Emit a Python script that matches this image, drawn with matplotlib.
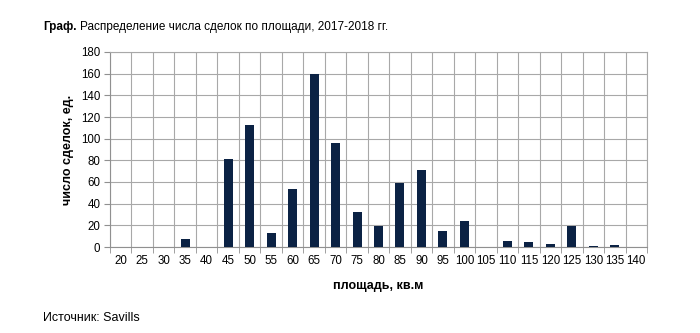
import matplotlib
matplotlib.use("Agg")
import matplotlib.pyplot as plt
from matplotlib.transforms import offset_copy
import numpy as np

categories = ["20", "25", "30", "35", "40", "45", "50", "55", "60", "65", "70", "75", "80",
              "85", "90", "95", "100", "105", "110", "115", "120", "125", "130", "135", "140"]
values = [0, 0, 0, 7, 0, 81, 113, 13, 54, 160, 96, 32, 19,
          59, 71, 15, 24, 0, 6, 5, 3, 19, 1, 2, 0]
y_ticks = [0, 20, 40, 60, 80, 100, 120, 140, 160, 180]

plt.rcParams['font.family'] = ['Liberation Sans', 'DejaVu Sans']

fig = plt.figure(figsize=(7.0, 3.33), dpi=100)
W, H = 700, 333
left, right, top, bottom = 110, 647, 52, 247
ax = fig.add_axes([left / W, 1 - bottom / H, (right - left) / W, (bottom - top) / H])

x = np.arange(len(categories))
ax.bar(x, values, width=0.42, color="#0b2244", zorder=3)
ax.set_xlim(-0.5, len(categories) - 0.5)
ax.set_ylim(0, 180)
ax.set_yticks(y_ticks)
ax.set_xticks(x)
ax.set_xticklabels(categories)
ax.set_xticks(np.arange(len(categories) + 1) - 0.5, minor=True)
ax.grid(False)
ax.grid(axis="y", which="major", color="#a8a8a8", linewidth=0.8, zorder=0)
ax.grid(axis="x", which="minor", color="#a8a8a8", linewidth=0.8, zorder=0)
for s in ["top", "right"]:
    ax.spines[s].set_color("#a8a8a8")
    ax.spines[s].set_linewidth(0.8)
for s in ["left", "bottom"]:
    ax.spines[s].set_color("#909090")
    ax.spines[s].set_linewidth(0.8)
ax.tick_params(axis="x", which="major", length=0, labelsize=8.3, pad=6)
ax.tick_params(axis="x", which="minor", length=4, color="#909090")
ax.tick_params(axis="y", length=4, color="#909090", labelsize=8.3, pad=3)

ax.set_ylabel("число сделок, ед.", fontsize=9, fontweight="bold", labelpad=5)
ax.set_xlabel("площадь, кв.м", fontsize=9, fontweight="bold", labelpad=9)

t1 = fig.text(43 / W, 1 - 27 / H, "Граф.", fontsize=8.5, fontweight="bold", va="center", ha="left")
fig.canvas.draw()
bb = t1.get_window_extent(renderer=fig.canvas.get_renderer())
fig.text((bb.x1 + 4) / W, 1 - 27 / H, "Распределение числа сделок по площади, 2017-2018 гг.",
         fontsize=8.5, va="center", ha="left")
fig.text(43 / W, 1 - 318 / H, "Источник: Savills", fontsize=9, va="center", ha="left")

fig.savefig("out.png", dpi=100, facecolor="white")
